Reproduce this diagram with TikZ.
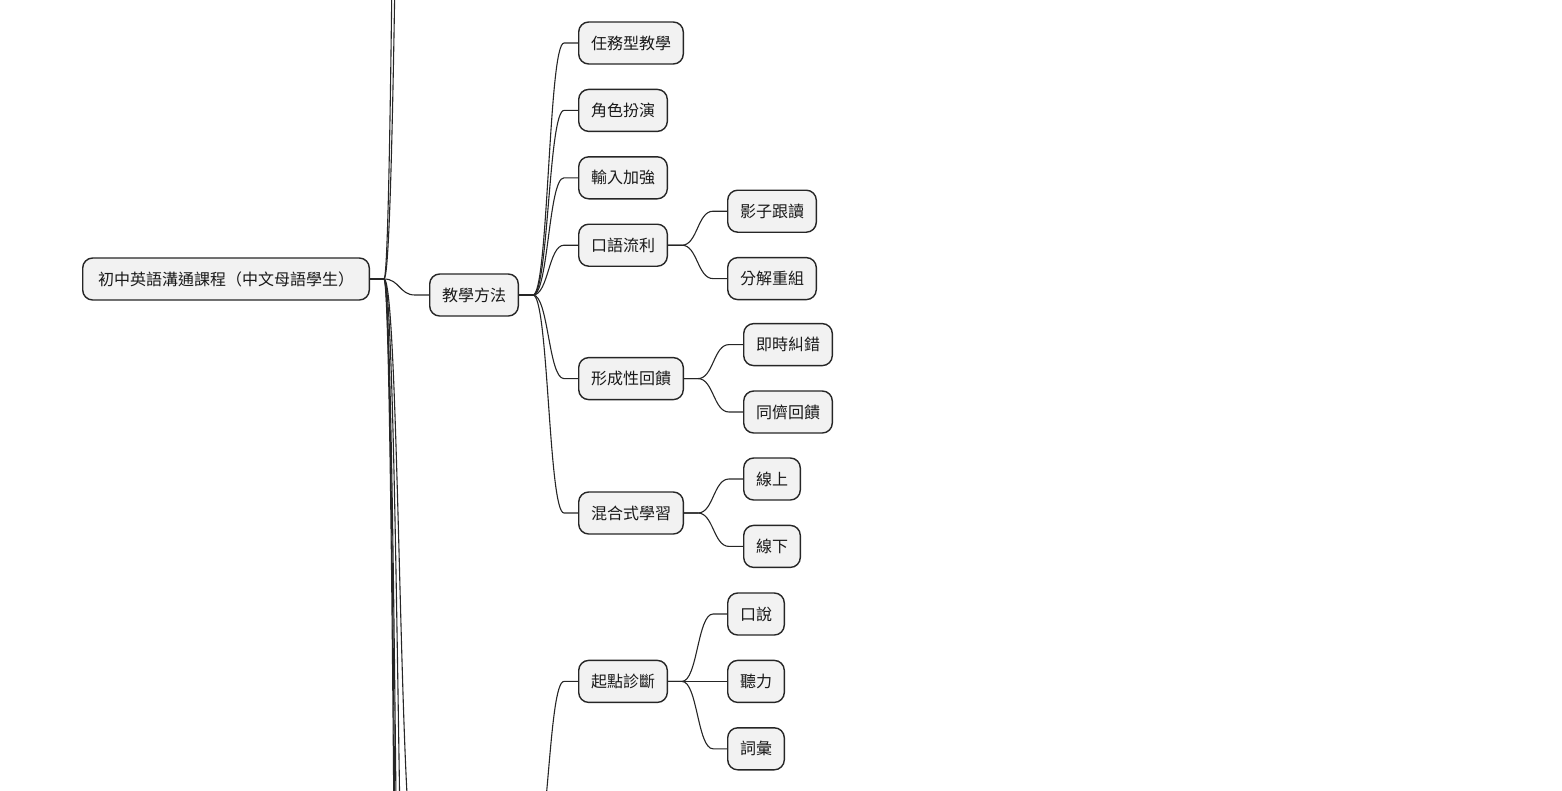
\documentclass[tikz,border=0pt]{standalone}
\usepackage{fontspec}
\usepackage{tikz}
\usetikzlibrary{positioning}
\newfontfamily\cjk{Noto Sans CJK TC}

\begin{document}
\begin{tikzpicture}[x=1pt, y=-1pt]
    \tikzstyle{topic} = [rectangle, rounded corners=10pt, minimum height=42pt, inner xsep=12.3pt, inner ysep=0pt, draw=black!85, line width=1.4pt, fill=gray!10, text=black!90, font=\cjk\fontsize{16}{19}\selectfont]
    \tikzstyle{link} = [draw=black!85, line width=1.1pt, to path={-- ([xshift=14pt]\tikztostart.east) .. controls ([xshift=29.5pt]\tikztostart.east) and ([xshift=-29.5pt]\tikztotarget.west) .. ([xshift=-14pt]\tikztotarget.west) -- (\tikztotarget.west)}]
    \tikzstyle{outlink} = [draw=black!85, line width=1.1pt, to path={-- ([xshift=14pt]\tikztostart.east) .. controls ([xshift=29.5pt]\tikztostart.east) and ([xshift=-15.5pt]\tikztotarget) .. (\tikztotarget)}]
    \tikzstyle{inlink} = [draw=black!85, line width=1.1pt, to path={.. controls ([xshift=15.5pt]\tikztostart) and ([xshift=-29.5pt]\tikztotarget.west) .. ([xshift=-14pt]\tikztotarget.west) -- (\tikztotarget.west)}]

    \useasboundingbox (0,0) rectangle (1562,790);
    \clip (0,0) rectangle (1562,790);

    % Root and first branch
    \node [topic, anchor=west, minimum width=286.6pt] (root) at (82,279) {初中英語溝通課程（中文母語學生）};
    \node [topic, anchor=west] (method) at (429,295) {教學方法};

    % Teaching methods
    \node [topic, right=59pt of method, yshift=252pt] (task_based) {任務型教學};
    \node [topic, below=24pt of task_based.south west, anchor=north west] (role_play) {角色扮演};
    \node [topic, below=24pt of role_play.south west, anchor=north west] (input_enh) {輸入加強};
    \node [topic, below=24pt of input_enh.south west, anchor=north west] (oral_fluency) {口語流利};
    \node [topic, below=90pt of oral_fluency.south west, anchor=north west] (formative) {形成性回饋};
    \node [topic, below=91pt of formative.south west, anchor=north west] (blended) {混合式學習};
    \node [topic, below=125pt of blended.south west, anchor=north west] (diagnosis) {起點診斷};

    % Third level
    \node [topic, right=59pt of oral_fluency, yshift=34pt] (shadowing) {影子跟讀};
    \node [topic, below=24pt of shadowing.south west, anchor=north west] (chunking) {分解重組};
    \node [topic, right=59pt of formative, yshift=34pt] (instant_fix) {即時糾錯};
    \node [topic, below=24pt of instant_fix.south west, anchor=north west] (peer_fb) {同儕回饋};
    \node [topic, right=59pt of blended, yshift=34pt] (online) {線上};
    \node [topic, below=24pt of online.south west, anchor=north west] (offline) {線下};
    \node [topic, right=59pt of diagnosis] (listening) {聽力};
    \node [topic, above=24pt of listening.north west, anchor=south west] (speaking) {口說};
    \node [topic, below=24pt of listening.south west, anchor=north west] (vocab) {詞彙};

    % Branches leaving the frame
    \coordinate (far_up1) at (415,-1013);
    \coordinate (far_up2) at (415,-2404);
    \coordinate (assess_in) at (415,860);
    \coordinate (assess_out) at (533,860);
    \coordinate (far_down1) at (415,1301);
    \coordinate (far_down2) at (415,2100);
    \coordinate (far_down3) at (415,2645);
    \coordinate (far_down4) at (415,3200);

    % Connections
    \draw [link] (root) to (method);
    \draw [outlink] (root) to (far_up1);
    \draw [outlink] (root) to (far_up2);
    \draw [outlink] (root) to (assess_in);
    \draw [outlink] (root) to (far_down1);
    \draw [outlink] (root) to (far_down2);
    \draw [outlink] (root) to (far_down3);
    \draw [outlink] (root) to (far_down4);

    \draw [link] (method) to (task_based);
    \draw [link] (method) to (role_play);
    \draw [link] (method) to (input_enh);
    \draw [link] (method) to (oral_fluency);
    \draw [link] (method) to (formative);
    \draw [link] (method) to (blended);

    \draw [link] (oral_fluency) to (shadowing);
    \draw [link] (oral_fluency) to (chunking);
    \draw [link] (formative) to (instant_fix);
    \draw [link] (formative) to (peer_fb);
    \draw [link] (blended) to (online);
    \draw [link] (blended) to (offline);

    \draw [inlink] (assess_out) to (diagnosis);
    \draw [link] (diagnosis) to (speaking);
    \draw [link] (diagnosis) to (listening);
    \draw [link] (diagnosis) to (vocab);
\end{tikzpicture}
\end{document}
